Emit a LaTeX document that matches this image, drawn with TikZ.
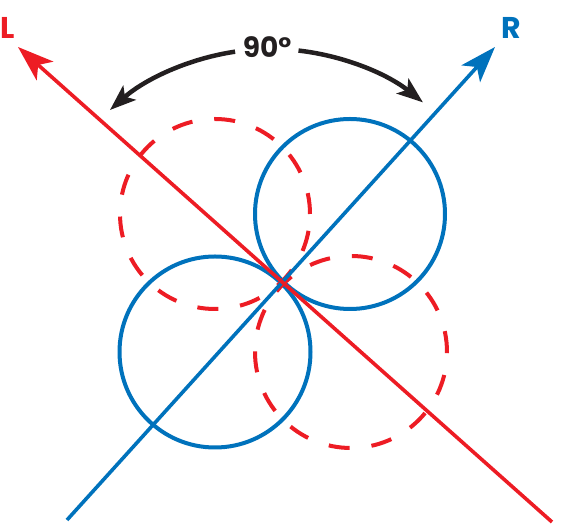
\documentclass[tikz,border=0pt]{standalone}
\usepackage{fontspec}
\newfontfamily\pop{Poppins}
\usetikzlibrary{arrows.meta,calc}
\definecolor{myred}{HTML}{ED1C24}
\definecolor{myblue}{HTML}{0072BC}
\definecolor{myblack}{HTML}{231F20}
\tikzset{
  x=1pt,y=1pt,
  axisline/.style={line width=3.6pt},
  bigtip/.style={-{Stealth[length=36pt,width=25pt,inset=9pt]}},
  solidcirc/.style={draw=myblue,line width=4pt},
  dashcirc/.style={draw=myred,line width=4pt,dash pattern=on 21pt off 22pt},
  anglearrow/.style={draw=myblack,line width=4.5pt,-{Stealth[length=26pt,width=19pt,inset=6pt]}},
  axislabel/.style={font=\pop\bfseries\fontsize{30}{30}\selectfont,inner sep=0pt},
}
\begin{document}
\begin{tikzpicture}
\useasboundingbox (0,0) rectangle (563,524);
% circles
\draw[solidcirc] (350,310) circle[radius=95];
\draw[solidcirc] (215,172) circle[radius=95.5];
\draw[dashcirc] (215,310) circle[radius=95];
\draw[dashcirc] (351,172) circle[radius=96];
% axes
\coordinate (bstart) at (67,4);
\coordinate (btip) at (495,477);
\coordinate (rstart) at (552,2);
\coordinate (rtip) at (18,477);
\draw[axisline,myblue,bigtip] (bstart) -- (btip);
\draw[axisline,myred,bigtip] (rstart) -- (rtip);
% labels
\node[axislabel,text=myred] (L) at (8,496) {L};
\node[axislabel,text=myblue] (R) at (511,496) {R};
\node[inner sep=0pt,font=\pop\bfseries\fontsize{28}{28}\selectfont,text=myblack] (ang) at (267,477) {90°};
% angle arrows
\coordinate (ac) at (271,232);
\draw[anglearrow] ($(ac)+(98.5:243)$) arc[start angle=98.5,end angle=131.5,radius=243];
\draw[anglearrow] ($(ac)+(83.5:243)$) arc[start angle=83.5,end angle=51.3,radius=243];
\end{tikzpicture}
\end{document}
